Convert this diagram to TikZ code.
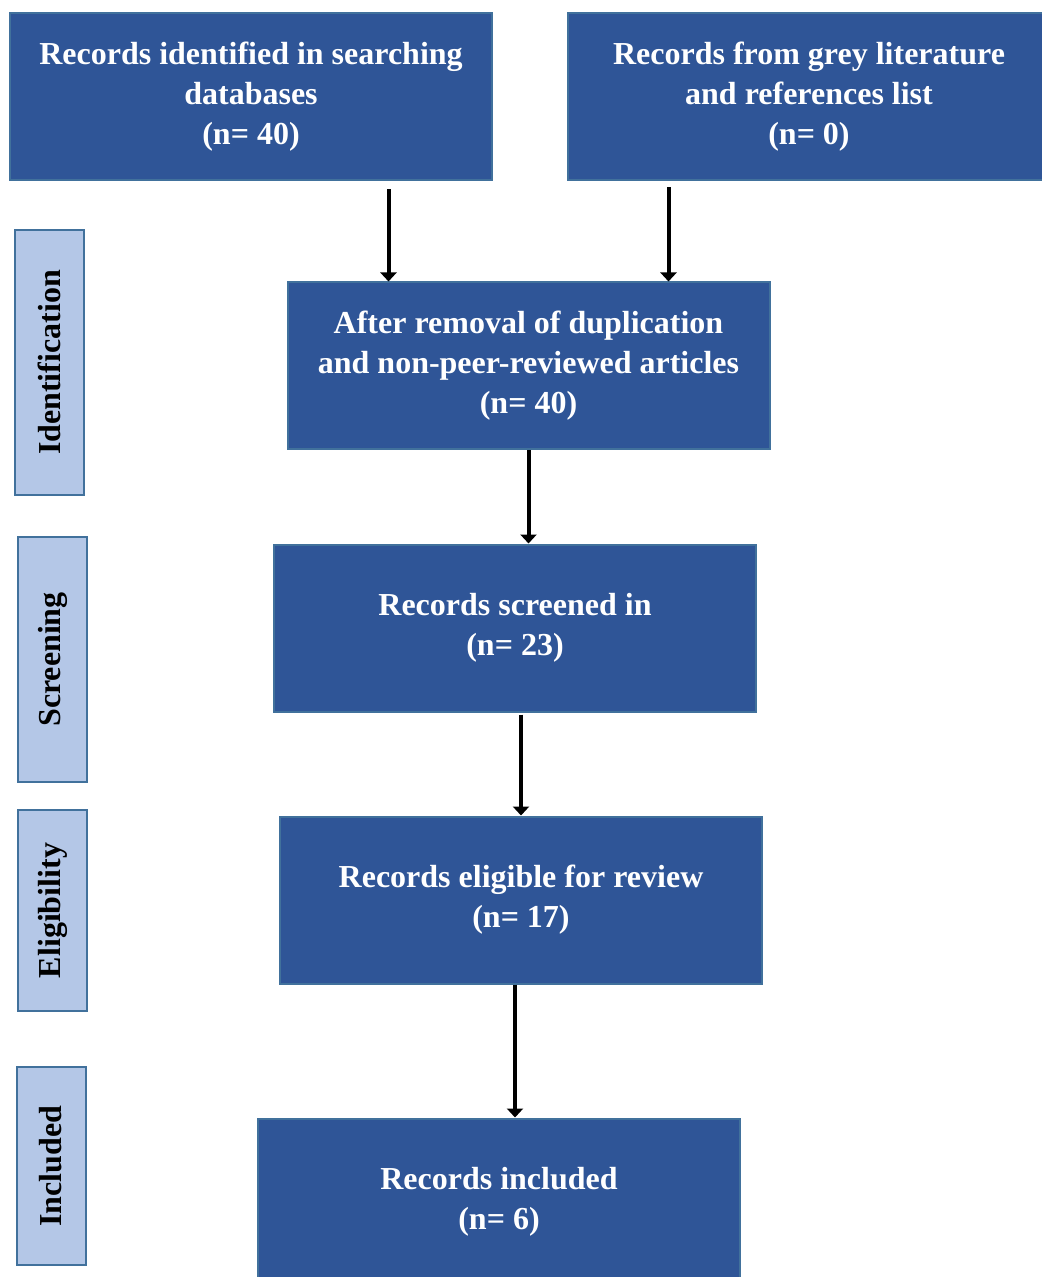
\documentclass[tikz,border=0pt]{standalone}
\usepackage{fontspec}
\setmainfont{Liberation Serif}
\usetikzlibrary{arrows.meta}
\definecolor{boxblue}{HTML}{2F5597}
\definecolor{boxline}{HTML}{41719C}
\definecolor{phaseblue}{HTML}{B4C7E7}
\begin{document}
\begin{tikzpicture}[x=0.5pt,y=-0.5pt]
\tikzstyle{recbox}=[rectangle, draw=boxline, line width=1pt, fill=boxblue, text=white, font=\fontsize{16}{20}\selectfont\bfseries, align=center, minimum width=241pt, minimum height=83.5pt, inner sep=0pt]
\tikzstyle{phase}=[rectangle, draw=boxline, line width=1pt, fill=phaseblue, font=\fontsize{16}{20}\selectfont\bfseries, rotate=90, minimum height=34.5pt, inner sep=0pt]
\tikzstyle{flow}=[line width=2pt, -{Triangle[width=8pt,length=4.5pt]}]
\useasboundingbox (0,0) rectangle (1041,1277);

% records
\node [recbox] (db) at (251,97) {Records identified in searching\\databases\\(n= 40)};
\node [recbox] (grey) at (809,97) {Records from grey literature\\and references list\\(n= 0)};
\node [recbox] (dedup) at (528.5,366) {After removal of duplication\\and non-peer-reviewed articles\\(n= 40)};
\node [recbox] (screen) at (515,628) {Records screened in\\(n= 23)};
\node [recbox] (eligible) at (521,900) {Records eligible for review\\(n= 17)};
\node [recbox] (included) at (499,1202) {Records included\\(n= 6)};

% phases
\node [phase, minimum width=132.5pt] (pident) at (49.5,362.5) {Identification};
\node [phase, minimum width=122.5pt] (pscreen) at (52.5,659.5) {Screening};
\node [phase, minimum width=100.5pt] (pelig) at (52.5,910.5) {Eligibility};
\node [phase, minimum width=99pt] (pincl) at (51,1166) {Included};

% arrows
\coordinate (in1) at ([xshift=51pt]dedup.north west);
\coordinate (in2) at ([xshift=-51pt]dedup.north east);
\draw [flow] ([yshift=-4pt]db.south -| in1) -- (in1);
\draw [flow] ([yshift=-3pt]grey.south -| in2) -- (in2);
\draw [flow] (dedup.south) -- (dedup.south |- screen.north);
\draw [flow] ([yshift=-1pt]screen.south -| eligible.north) -- (eligible.north);
\draw [flow] ([xshift=-3pt]eligible.south) -- ([xshift=-3pt]eligible.south |- included.north);

\end{tikzpicture}
\end{document}
